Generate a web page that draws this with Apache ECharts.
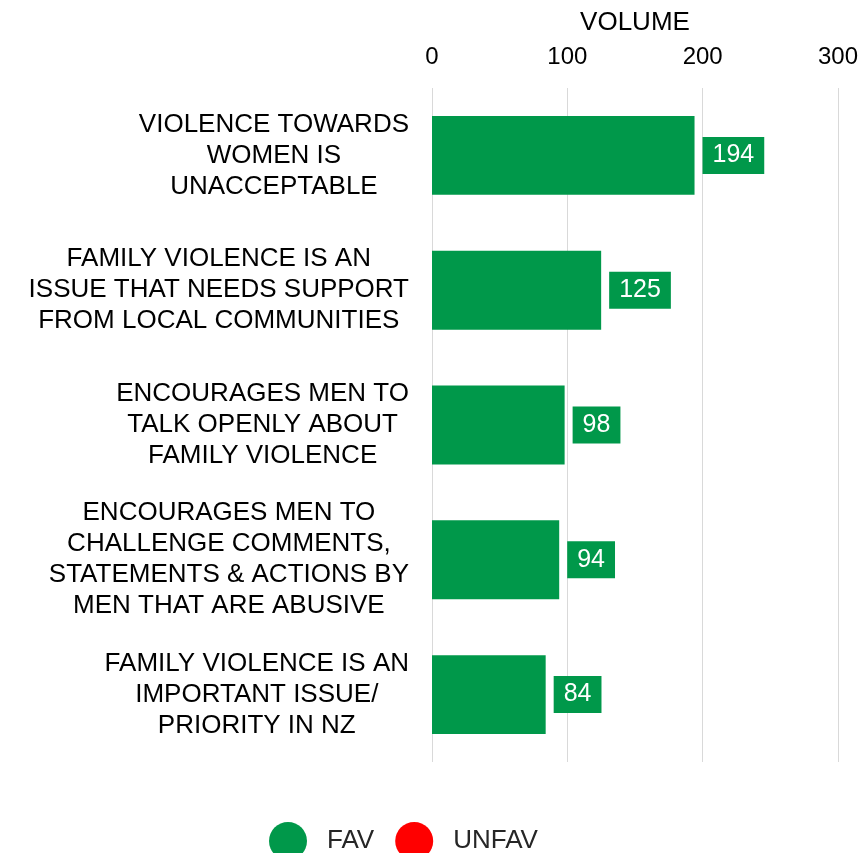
<!DOCTYPE html>
<html>
<head>
<meta charset="utf-8">
<script src="https://cdn.jsdelivr.net/npm/echarts@6/dist/echarts.min.js"></script>
<style>
  html, body { margin: 0; padding: 0; background: #fff; }
  #chart { width: 861px; height: 853px; }
</style>
</head>
<body>
<div id="chart"></div>
<script>
// Statements, top to bottom
const categories = [
  'VIOLENCE TOWARDS\nWOMEN IS\nUNACCEPTABLE',
  'FAMILY VIOLENCE IS AN\nISSUE THAT NEEDS SUPPORT\nFROM LOCAL COMMUNITIES',
  'ENCOURAGES MEN TO\nTALK OPENLY ABOUT\nFAMILY VIOLENCE',
  'ENCOURAGES MEN TO\nCHALLENGE COMMENTS,\nSTATEMENTS & ACTIONS BY\nMEN THAT ARE ABUSIVE',
  'FAMILY VIOLENCE IS AN\nIMPORTANT ISSUE/\nPRIORITY IN NZ'
];
const favValues = [194, 125, 98, 94, 84];
const unfavValues = [null, null, null, null, null];
const axisMin = 0;
const axisMax = 300;
const axisStep = 100;

const FONT = '"Liberation Sans", Arial, sans-serif';
const chart = echarts.init(document.getElementById('chart'));

chart.setOption({
  animation: false,
  textStyle: { fontFamily: FONT },
  grid: { left: 432, right: 23, top: 88, bottom: 91, containLabel: false },
  legend: {
    left: 264,
    top: 817,
    icon: 'circle',
    itemWidth: 38,
    itemHeight: 38,
    itemGap: 21,
    textStyle: { fontFamily: FONT, fontSize: 26, color: '#262626', padding: [0, 0, 0, 15] },
    data: ['FAV', 'UNFAV']
  },
  xAxis: {
    type: 'value',
    position: 'top',
    min: axisMin,
    max: axisMax,
    interval: axisStep,
    name: 'VOLUME',
    nameLocation: 'middle',
    nameGap: 52,
    nameTextStyle: { fontFamily: FONT, fontSize: 26, color: '#000' },
    axisLine: { show: false },
    axisTick: { show: false },
    axisLabel: { fontFamily: FONT, fontSize: 24, color: '#000', margin: 19 },
    splitLine: { show: true, lineStyle: { color: '#d9d9d9', width: 1 } }
  },
  yAxis: {
    type: 'category',
    inverse: true,
    data: categories,
    axisLine: { show: false },
    axisTick: { show: false },
    axisLabel: {
      margin: 23,
      formatter: function (v) {
        return v.split('\n').map(function (s) { return '{c|' + s + '}'; }).join('\n');
      },
      rich: {
        c: { fontFamily: FONT, fontSize: 26, lineHeight: 31, color: '#000', align: 'center' }
      }
    }
  },
  series: [
    {
      name: 'FAV',
      type: 'bar',
      stack: 'total',
      barWidth: '58.5%',
      data: favValues,
      itemStyle: { color: '#00984A' },
      label: {
        show: true,
        position: 'right',
        distance: 8,
        fontFamily: FONT,
        fontSize: 25,
        color: '#fff',
        backgroundColor: '#00984A',
        padding: [6, 10]
      }
    },
    {
      name: 'UNFAV',
      type: 'bar',
      stack: 'total',
      data: unfavValues,
      itemStyle: { color: '#FF0000' }
    }
  ]
});
</script>
</body>
</html>
